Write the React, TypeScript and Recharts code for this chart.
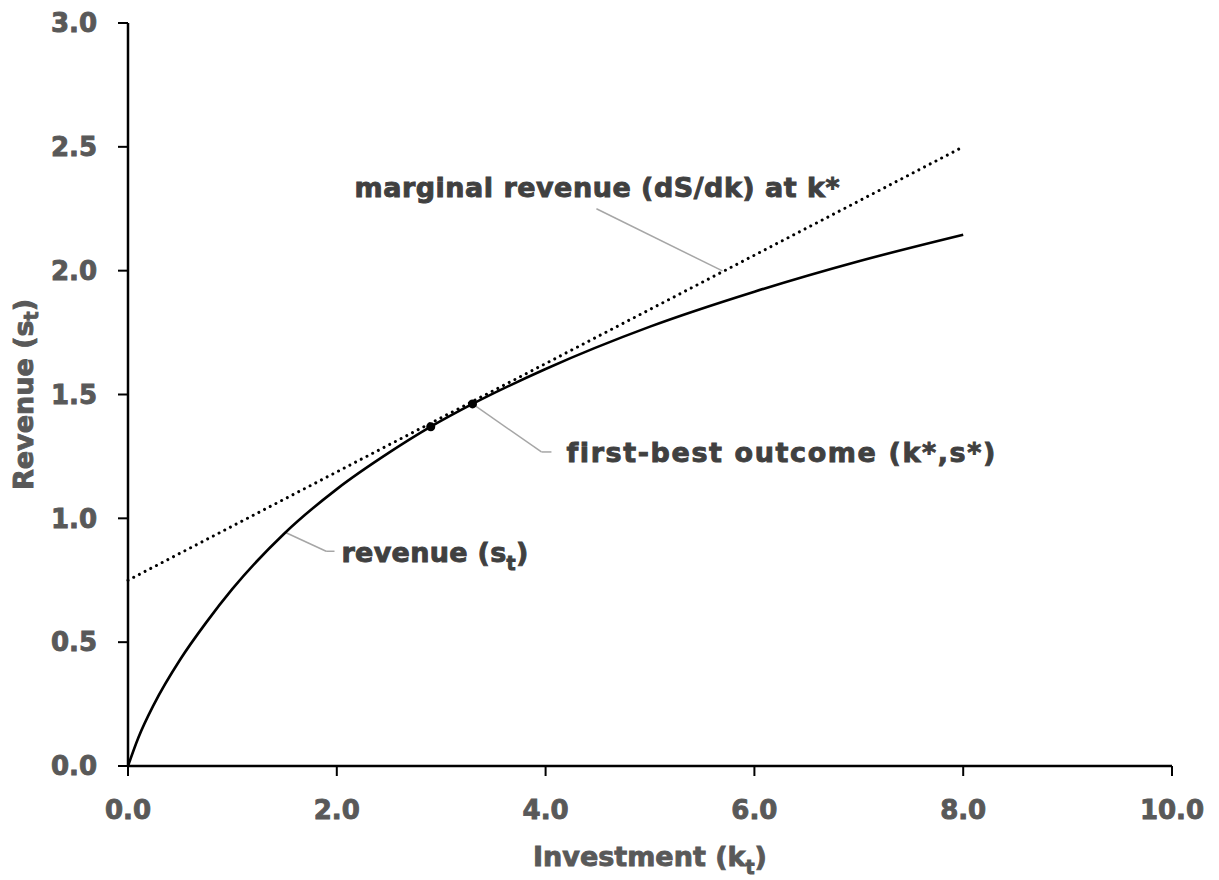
import { ComposedChart, Label, Line, ReferenceDot, ReferenceLine, Scatter, XAxis, YAxis } from "recharts";

// revenue curve
const investment = [0, 0.1, 0.25, 0.5, 0.75, 1, 1.5, 2, 2.5, 2.9, 3.3, 4, 5, 6, 7, 8];
const revenue = [0, 0.115, 0.25, 0.43, 0.58, 0.715, 0.94, 1.118, 1.265, 1.37, 1.462, 1.603, 1.774, 1.915, 2.038, 2.145];

// tangent (marginal revenue at k*)
const tangentK = [0, 8];
const tangentS = [0.75, 2.5];

// marked points on the curve
const markedK = [2.9, 3.3];
const markedS = [1.37, 1.462];

const xTicks = [0, 2, 4, 6, 8, 10];
const yTicks = [0, 0.5, 1, 1.5, 2, 2.5, 3];

const revenueData = investment.map((k, i) => ({ k, s: revenue[i] }));
const tangentData = tangentK.map((k, i) => ({ k, s: tangentS[i] }));
const markedData = markedK.map((k, i) => ({ k, s: markedS[i] }));

const FONT = "DejaVu Sans";
const ANNOT = "#404040";
const AXIS_TEXT = "#595959";
const LEADER = "#a6a6a6";

// leader lines, in data units
const leaders: [number, number][][] = [
  [[4.487, 2.25], [5.694, 1.999]],
  [[3.3, 1.462], [3.96, 1.268], [4.056, 1.268]],
  [[1.509, 0.943], [1.898, 0.867], [1.978, 0.867]],
];

const textStyle = {
  fontFamily: FONT,
  fontWeight: "bold",
  fontSize: 27,
  fill: ANNOT,
  stroke: ANNOT,
  strokeWidth: 0.9,
} as const;

function annotation(kind: string) {
  return (props: any) => {
    const vb = props.viewBox || {};
    const x = vb.x;
    const y = vb.y;
    if (kind === "marginal") {
      return (
        <text x={x} y={y} {...textStyle} letterSpacing={0.5}>
          marginal revenue (dS/dk) at k*
        </text>
      );
    }
    if (kind === "first") {
      return (
        <text x={x} y={y} {...textStyle} letterSpacing={1.6}>
          first-best outcome (k*,s*)
        </text>
      );
    }
    return (
      <text x={x} y={y} {...textStyle} letterSpacing={0.3}>
        revenue (s<tspan dy={8} fontSize={19}>t</tspan>
        <tspan dy={-8}>)</tspan>
      </text>
    );
  };
}

const titleStyle = {
  fontFamily: FONT,
  fontWeight: "bold",
  fontSize: 27,
  fill: AXIS_TEXT,
  stroke: AXIS_TEXT,
  strokeWidth: 0.9,
} as const;

function XTitle(props: any) {
  const { x, y, width } = props.viewBox;
  return (
    <text x={x + width / 2} y={y + 100} textAnchor="middle" {...titleStyle}>
      Investment (k<tspan dy={8} fontSize={19}>t</tspan>
      <tspan dy={-8}>)</tspan>
    </text>
  );
}

function YTitle(props: any) {
  const { x, y, height } = props.viewBox;
  const cx = x + 23;
  const cy = y + height / 2;
  return (
    <text
      x={cx}
      y={cy}
      transform={`rotate(-90, ${cx}, ${cy})`}
      textAnchor="middle"
      dominantBaseline="central"
      {...titleStyle}
    >
      Revenue (s<tspan dy={8} fontSize={19}>t</tspan>
      <tspan dy={-8}>)</tspan>
    </text>
  );
}

const tickStyle = {
  fill: AXIS_TEXT,
  stroke: AXIS_TEXT,
  strokeWidth: 0.9,
  fontSize: 26,
  fontWeight: "bold",
  fontFamily: FONT,
};

export default function App() {
  return (
    <div style={{ position: "absolute", left: 0, top: 0, background: "#fff" }}>
      <ComposedChart width={1219} height={880} margin={{ top: 23, right: 47, bottom: 0, left: 0 }}>
        <XAxis
          type="number"
          dataKey="k"
          domain={[0, 10]}
          ticks={xTicks}
          tickFormatter={(v: number) => v.toFixed(1)}
          height={114}
          tickSize={10}
          tickMargin={25}
          axisLine={{ stroke: "#000", strokeWidth: 2.5 }}
          tickLine={{ stroke: "#000", strokeWidth: 2 }}
          tick={tickStyle}
        >
          <Label content={XTitle} />
        </XAxis>
        <YAxis
          type="number"
          dataKey="s"
          domain={[0, 3]}
          ticks={yTicks}
          tickFormatter={(v: number) => v.toFixed(1)}
          width={128}
          tickSize={10}
          tickMargin={21}
          axisLine={{ stroke: "#000", strokeWidth: 2.5 }}
          tickLine={{ stroke: "#000", strokeWidth: 2 }}
          tick={tickStyle}
        >
          <Label content={YTitle} />
        </YAxis>
        {leaders.flatMap((pts, li) =>
          pts.slice(1).map((p, i) => (
            <ReferenceLine
              key={`l${li}-${i}`}
              segment={[
                { x: pts[i][0], y: pts[i][1] },
                { x: p[0], y: p[1] },
              ]}
              stroke={LEADER}
              strokeWidth={1.5}
            />
          ))
        )}
        <Line
          data={tangentData}
          dataKey="s"
          type="linear"
          stroke="#000"
          strokeWidth={3}
          strokeDasharray="0.01 6.4"
          strokeLinecap="round"
          dot={false}
          activeDot={false}
          isAnimationActive={false}
        />
        <Line
          data={revenueData}
          dataKey="s"
          type="monotone"
          stroke="#000"
          strokeWidth={2.6}
          dot={false}
          activeDot={false}
          isAnimationActive={false}
        />
        <Scatter
          data={markedData}
          dataKey="s"
          isAnimationActive={false}
          shape={(p: any) => <circle cx={p.cx} cy={p.cy} r={4.5} fill="#000" />}
        />
        <ReferenceDot x={2.17} y={2.298} r={0} stroke="none" label={annotation("marginal")} />
        <ReferenceDot x={4.2} y={1.228} r={0} stroke="none" label={annotation("first")} />
        <ReferenceDot x={2.045} y={0.825} r={0} stroke="none" label={annotation("revenue")} />
      </ComposedChart>
    </div>
  );
}
